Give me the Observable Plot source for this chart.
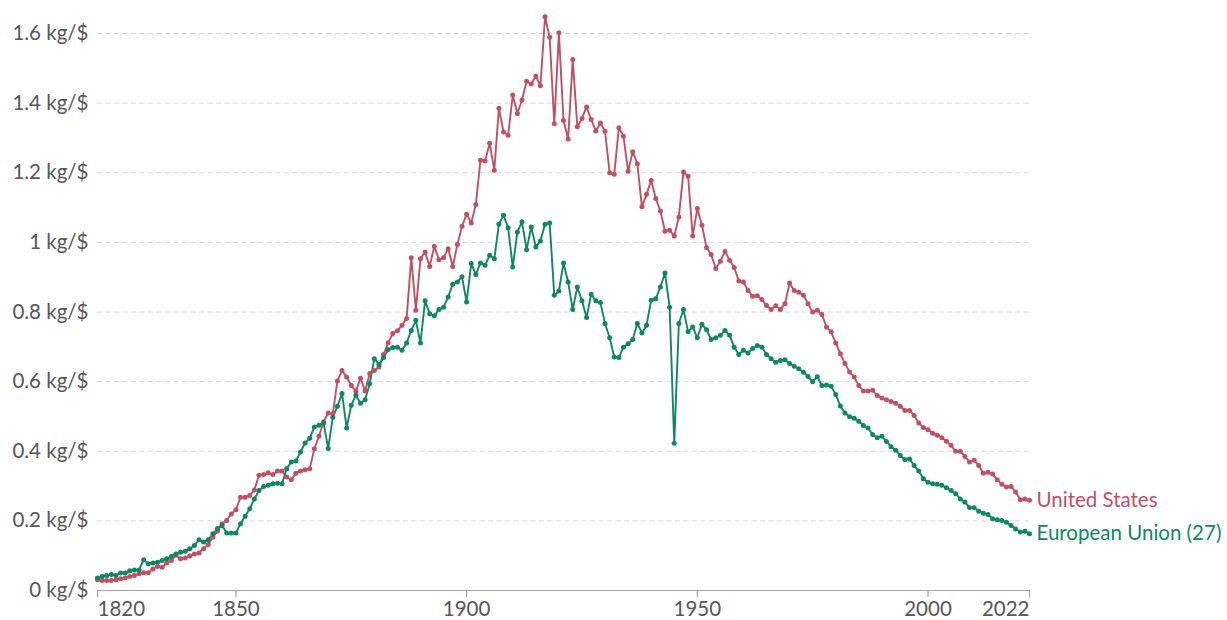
<!DOCTYPE html>
<html>
<head>
<meta charset="utf-8">
<script src="https://cdn.jsdelivr.net/npm/d3@7"></script>
<script src="https://cdn.jsdelivr.net/npm/@observablehq/plot@0.6"></script>
<style>
  html, body { margin: 0; padding: 0; background: #fff; }
  #chart svg { display: block; }
</style>
</head>
<body>
<div id="chart"></div>
<script>
const firstYear = 1820;
const lastYear = 2022;

const usValues = [
  0.031,0.029,0.029,0.029,0.031,0.034,0.036,0.040,0.043,0.048,
  0.051,0.051,0.062,0.069,0.067,0.079,0.086,0.101,0.091,0.093,
  0.099,0.105,0.108,0.120,0.132,0.153,0.170,0.192,0.201,0.220,
  0.232,0.268,0.268,0.273,0.289,0.331,0.333,0.338,0.333,0.343,
  0.343,0.326,0.318,0.337,0.343,0.347,0.350,0.407,0.443,0.484,
  0.510,0.508,0.602,0.632,0.613,0.589,0.572,0.610,0.573,0.623,
  0.632,0.642,0.678,0.712,0.738,0.746,0.762,0.781,0.956,0.805,
  0.953,0.972,0.931,0.989,0.950,0.956,0.982,0.931,0.994,1.046,
  1.081,1.056,1.109,1.236,1.234,1.285,1.207,1.385,1.317,1.308,
  1.423,1.370,1.409,1.463,1.455,1.478,1.450,1.648,1.589,1.341,
  1.602,1.350,1.297,1.525,1.332,1.356,1.389,1.353,1.320,1.343,
  1.319,1.200,1.196,1.329,1.305,1.204,1.260,1.226,1.102,1.138,
  1.178,1.126,1.090,1.032,1.035,1.018,1.073,1.202,1.190,1.018,
  1.097,1.049,0.985,0.965,0.925,0.946,0.974,0.949,0.928,0.889,
  0.886,0.862,0.845,0.847,0.836,0.819,0.807,0.818,0.807,0.824,
  0.883,0.862,0.857,0.848,0.824,0.800,0.805,0.793,0.757,0.743,
  0.711,0.680,0.652,0.628,0.613,0.589,0.573,0.573,0.575,0.560,
  0.553,0.548,0.543,0.538,0.529,0.517,0.517,0.503,0.481,0.468,
  0.462,0.452,0.446,0.439,0.429,0.417,0.400,0.400,0.385,0.369,
  0.374,0.359,0.337,0.340,0.335,0.318,0.305,0.297,0.299,0.283,
  0.261,0.263,0.259
];

const euValues = [
  0.036,0.040,0.043,0.046,0.043,0.050,0.050,0.057,0.059,0.059,
  0.088,0.077,0.079,0.081,0.086,0.091,0.098,0.105,0.110,0.113,
  0.120,0.129,0.146,0.139,0.146,0.163,0.178,0.186,0.165,0.165,
  0.165,0.192,0.213,0.235,0.263,0.287,0.299,0.302,0.307,0.308,
  0.307,0.350,0.369,0.372,0.398,0.424,0.437,0.470,0.475,0.481,
  0.408,0.498,0.529,0.566,0.467,0.532,0.561,0.538,0.548,0.594,
  0.666,0.650,0.669,0.692,0.698,0.699,0.690,0.711,0.747,0.776,
  0.711,0.832,0.795,0.789,0.807,0.814,0.843,0.880,0.886,0.901,
  0.829,0.939,0.908,0.941,0.934,0.963,0.953,1.052,1.078,1.042,
  0.929,1.030,1.059,0.979,1.044,0.987,1.004,1.052,1.056,0.848,
  0.860,0.941,0.886,0.807,0.872,0.832,0.784,0.851,0.832,0.827,
  0.767,0.726,0.671,0.669,0.699,0.709,0.721,0.767,0.740,0.762,
  0.834,0.838,0.872,0.912,0.814,0.423,0.767,0.807,0.743,0.757,
  0.726,0.765,0.749,0.721,0.726,0.733,0.747,0.733,0.699,0.678,
  0.690,0.682,0.695,0.704,0.699,0.678,0.666,0.656,0.661,0.663,
  0.652,0.644,0.637,0.627,0.615,0.600,0.614,0.589,0.590,0.587,
  0.563,0.530,0.510,0.499,0.495,0.486,0.474,0.467,0.448,0.439,
  0.443,0.428,0.413,0.403,0.388,0.376,0.378,0.359,0.343,0.321,
  0.311,0.307,0.305,0.302,0.295,0.287,0.278,0.263,0.254,0.238,
  0.238,0.228,0.222,0.218,0.206,0.203,0.201,0.196,0.187,0.177,
  0.168,0.170,0.163
];

const seriesNames = ["United States", "European Union (27)"];
const seriesColors = ["#c15065", "#0f8760"];
const xTicks = [1820, 1850, 1900, 1950, 2000, 2022];
const yTicks = [0, 0.2, 0.4, 0.6, 0.8, 1, 1.2, 1.4, 1.6];
const yTickLabels = ["0 kg/$", "0.2 kg/$", "0.4 kg/$", "0.6 kg/$", "0.8 kg/$", "1 kg/$", "1.2 kg/$", "1.4 kg/$", "1.6 kg/$"];

const rows = [];
[usValues, euValues].forEach((vals, i) => {
  vals.forEach((v, k) => rows.push({ series: seriesNames[i], year: firstYear + k, value: v }));
});
const lastRows = rows.filter(d => d.year === lastYear);

const textColor = "#575757";
const axisColor = "#a3a3a3";
const fs = 20.5;

const chart = Plot.plot({
  width: 1227,
  height: 620,
  marginLeft: 97,
  marginRight: 198,
  marginTop: 33,
  marginBottom: 30,
  style: { fontFamily: "Lato, 'Open Sans', sans-serif", fontSize: fs + "px", color: textColor, background: "#fff" },
  x: { domain: [firstYear, lastYear], label: null },
  y: { domain: [0, 1.6], label: null },
  color: { domain: seriesNames, range: seriesColors },
  marks: [
    Plot.gridY(yTicks.filter(d => d > 0), { stroke: "#d6d6d6", strokeOpacity: 1, strokeDasharray: "5,3.5", strokeWidth: 1 }),
    Plot.axisY(yTicks, {
      tickSize: 0, tickPadding: 9, label: null, fontSize: fs, fill: textColor,
      tickFormat: d => yTickLabels[yTicks.indexOf(d)]
    }),
    Plot.ruleY([0], { stroke: axisColor, strokeWidth: 1.2 }),
    Plot.axisX(xTicks.slice(1, -1), { tickSize: 7, tickPadding: 4, stroke: axisColor, strokeWidth: 1.2, fill: textColor, fontSize: fs, label: null, tickFormat: d => String(d) }),
    Plot.axisX([xTicks[0]], { tickSize: 7, tickPadding: 4, stroke: axisColor, strokeWidth: 1.2, fill: textColor, fontSize: fs, label: null, textAnchor: "start", tickFormat: d => String(d) }),
    Plot.axisX([xTicks[xTicks.length - 1]], { tickSize: 7, tickPadding: 4, stroke: axisColor, strokeWidth: 1.2, fill: textColor, fontSize: fs, label: null, textAnchor: "end", tickFormat: d => String(d) }),
    Plot.line(rows, { x: "year", y: "value", z: "series", stroke: "series", strokeWidth: 1.9, clip: false }),
    Plot.dot(rows, { x: "year", y: "value", fill: "series", r: 2.5, stroke: "none" }),
    Plot.text(lastRows, { x: "year", y: "value", text: "series", fill: "series", textAnchor: "start", dx: 7, fontSize: fs })
  ]
});
document.getElementById("chart").appendChild(chart);
</script>
</body>
</html>
